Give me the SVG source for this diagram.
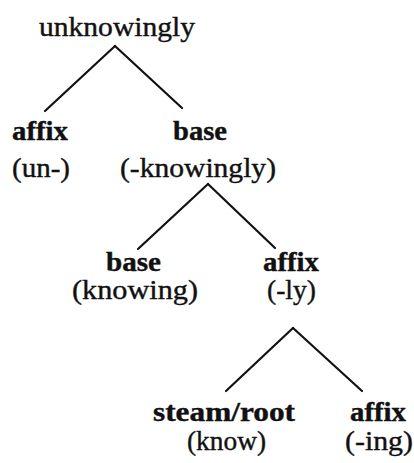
<svg xmlns="http://www.w3.org/2000/svg" width="414" height="463" viewBox="0 0 414 463">
<style>
text{font-family:"Liberation Serif","Times New Roman",serif;font-size:28px;fill:#111;stroke:#111;stroke-width:0.4}
.b{font-weight:bold}
.e{stroke:#111;stroke-width:2.2;fill:none;stroke-linecap:round}
</style>
<rect width="414" height="463" fill="#fff"/>
<g id="connectors">
<line class="e" x1="115" y1="46" x2="45" y2="111"/>
<line class="e" x1="115" y1="46" x2="182" y2="108"/>
<line class="e" x1="208" y1="184" x2="138" y2="249"/>
<line class="e" x1="208" y1="184" x2="275" y2="248"/>
<line class="e" x1="293" y1="328" x2="226" y2="391"/>
<line class="e" x1="293" y1="328" x2="362" y2="391"/>
</g>
<g id="n-root"><text x="39" y="36" textLength="156" lengthAdjust="spacingAndGlyphs">unknowingly</text></g>
<g id="n-affix1"><text class="b" x="12" y="140" textLength="56" lengthAdjust="spacingAndGlyphs">affix</text><text x="12" y="177" textLength="58" lengthAdjust="spacingAndGlyphs">(un-)</text></g>
<g id="n-base1"><text class="b" x="173" y="140" textLength="54" lengthAdjust="spacingAndGlyphs">base</text><text x="120" y="177" textLength="156" lengthAdjust="spacingAndGlyphs">(-knowingly)</text></g>
<g id="n-base2"><text class="b" x="106" y="271" textLength="55" lengthAdjust="spacingAndGlyphs">base</text><text x="72" y="299" textLength="126" lengthAdjust="spacingAndGlyphs">(knowing)</text></g>
<g id="n-affix2"><text class="b" x="263" y="271" textLength="56" lengthAdjust="spacingAndGlyphs">affix</text><text x="267" y="299" textLength="49" lengthAdjust="spacingAndGlyphs">(-ly)</text></g>
<g id="n-root3"><text class="b" x="153" y="421" textLength="142" lengthAdjust="spacingAndGlyphs">steam/root</text><text x="187" y="450" textLength="79" lengthAdjust="spacingAndGlyphs">(know)</text></g>
<g id="n-affix3"><text class="b" x="350" y="421" textLength="56" lengthAdjust="spacingAndGlyphs">affix</text><text x="345" y="450" textLength="68" lengthAdjust="spacingAndGlyphs">(-ing)</text></g>
</svg>
